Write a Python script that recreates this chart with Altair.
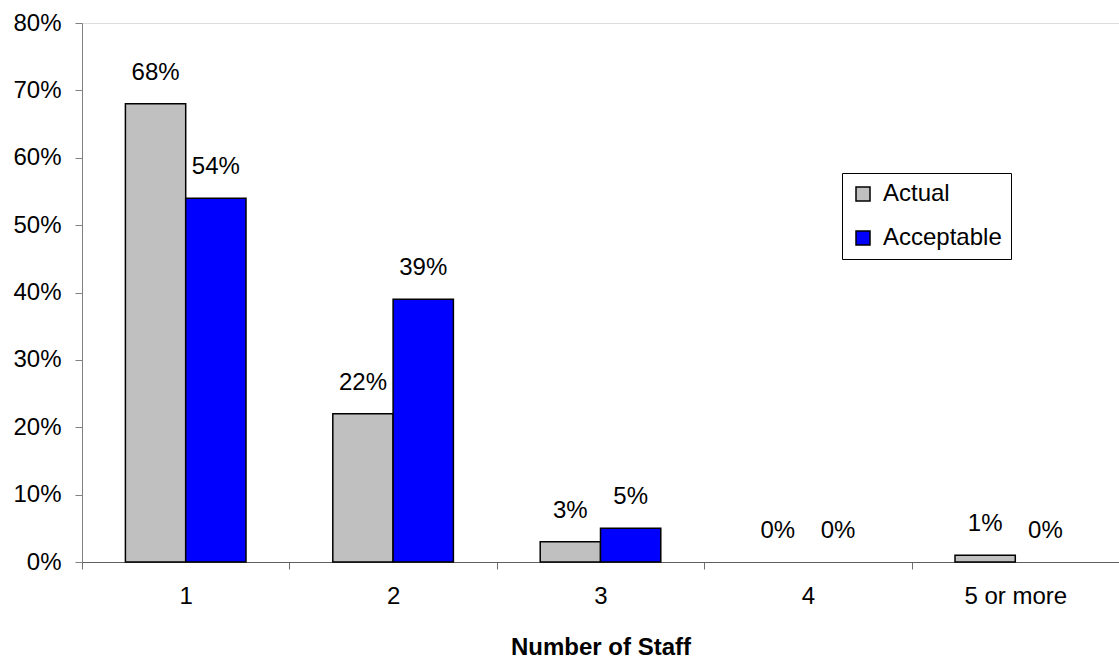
import altair as alt
import pandas as pd

categories = ["1", "2", "3", "4", "5 or more"]
actual = [0.68, 0.22, 0.03, 0.0, 0.01]
acceptable = [0.54, 0.39, 0.05, 0.0, 0.0]
series = ["Actual", "Acceptable"]
colors = ["#C0C0C0", "#0000FF"]

rows = []
for c, a, b in zip(categories, actual, acceptable):
    rows.append({"cat": c, "series": "Actual", "value": a})
    rows.append({"cat": c, "series": "Acceptable", "value": b})
df = pd.DataFrame(rows)

FONT = "Liberation Sans"
FS = 24

x = alt.X("cat:N", sort=categories, title="Number of Staff",
          scale=alt.Scale(paddingInner=0, paddingOuter=0),
          axis=alt.Axis(labelAngle=0, tickBand="extent", labelFontSize=FS,
                        labelFont=FONT, labelColor="black", labelPadding=15,
                        tickSize=7, tickColor="#707070", domainColor="#606060",
                        titleFont=FONT, titleFontSize=FS, titleFontWeight="bold",
                        titleColor="black", titlePadding=27, grid=False))
xo = alt.XOffset("series:N", sort=series,
                 scale=alt.Scale(paddingInner=0, paddingOuter=0.72))
y = alt.Y("value:Q", title=None,
          scale=alt.Scale(domain=[0, 0.8], nice=False),
          axis=alt.Axis(format=".0%", values=[0, 0.1, 0.2, 0.3, 0.4, 0.5, 0.6, 0.7, 0.8],
                        labelFontSize=FS, labelFont=FONT, labelColor="black",
                        labelPadding=14, tickSize=7, tickColor="#808080",
                        domainColor="#808080", grid=False))
color = alt.Color("series:N", sort=series,
                  scale=alt.Scale(domain=series, range=colors),
                  legend=alt.Legend(title=None, orient="none", legendX=760, legendY=150,
                                    labelFont=FONT, labelFontSize=FS, labelColor="black",
                                    symbolType="square", symbolSize=196,
                                    symbolStrokeColor="black", symbolStrokeWidth=1.5,
                                    rowPadding=20, padding=9, labelOffset=8,
                                    strokeColor="black", fillColor="white",
                                    cornerRadius=0))

base = alt.Chart(df)
bars = base.mark_bar(stroke="black", strokeWidth=1.5).encode(
    x=x, xOffset=xo, y=y, color=color
).transform_filter("datum.value > 0")
labels = base.mark_text(font=FONT, fontSize=FS, color="black",
                        baseline="middle", dy=-31).encode(
    x=alt.X("cat:N", sort=categories), xOffset=xo, y=y,
    text=alt.Text("value:Q", format=".0%")
)

chart = (bars + labels).properties(
    width=1037, height=539,
    autosize=alt.AutoSizeParams(type="none"),
    padding={"left": 82, "top": 23, "right": 0, "bottom": 96},
).configure_view(stroke=None).configure(background="white")

chart.save("out.html", embed_options={"renderer": "svg", "actions": False})
